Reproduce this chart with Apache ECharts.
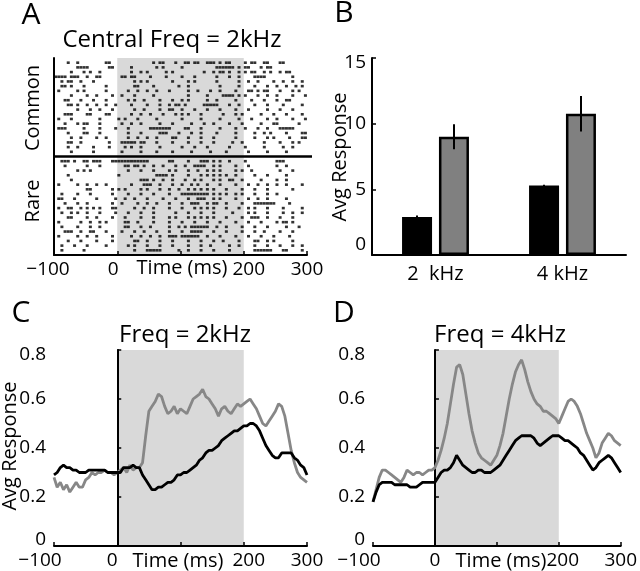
<!DOCTYPE html>
<html><head><meta charset="utf-8">
<script src="https://cdn.jsdelivr.net/npm/echarts@6/dist/echarts.min.js"></script>
<style>html,body{margin:0;padding:0;background:#fff}#c{width:640px;height:571px}</style>
</head><body><div id="c"></div>
<script>
// ---------- DATA ----------
// Panel A raster: spike positions as 5 ms bin indices (bin 0 starts at -100 ms)
const rasterBinMs = 5;
const rasterStartMs = -100;
const commonTrialBins = [
[4,7,16,17,31,33,34,38,41,42,44,45,48,49,50,52,54,55,60,62,63,66,67,71,72],
[7,8,9,10,17,18,24,32,34,40,51,52,53,54,55,56,58,60,61,65,67,68],
[5,9,11,14,24,27,29,35,37,47,50,52,53,55,58,60,62,63,66,68,71,73,74],
[0,1,2,3,5,6,7,10,13,14,21,22,24,25,30,35,40,44,51,55,58,63,64,65,66,75],
[2,4,5,8,12,25,27,29,37,42,44,51,58,61,64,69,72,75,78],
[2,3,5,9,16,25,26,31,39,42,52,58,63,67,70,73,76,78],
[1,7,9,16,23,26,29,32,36,42,45,49,52,57,61,62,64,66,67,71,75,77],
[5,10,13,18,21,25,31,42,48,53,54,55,56,58,60,64,67,70,75,79],
[3,4,8,12,16,23,25,28,33,37,40,42,48,51,57,62,66,70,73,74],
[4,5,7,10,13,16,19,24,29,33,36,38,39,41,47,48,49,50,51,55,58,63,67,72,78],
[7,11,14,18,25,28,33,36,37,40,44,48,52,57,61,67,71,75],
[3,4,5,10,11,16,17,24,27,30,34,38,40,42,46,53,57,59,65,69,73,78],
[1,5,14,20,22,26,32,40,46,52,58,62,67,70,75,79],
[3,7,9,10,14,21,24,27,33,37,43,47,50,55,59,65,69,70,77],
[1,2,3,9,14,19,23,30,31,32,33,34,35,36,41,42,46,52,57,60,64,67,71,72,73,74,75],
[4,9,10,14,23,27,33,34,35,39,43,46,51,57,63,66,68,73,78,79],
[5,8,13,16,23,26,29,32,37,38,42,46,50,57,63,67,69,74,78,79],
[4,5,8,17,21,22,23,24,25,27,28,32,37,42,46,50,56,59,66,71,75,77],
[4,7,12,17,22,24,27,33,40,44,48,55,60,66,72,75],
[5,12,21,27,32,37,43,49,54,61,67,73]
];
const rareTrialBins = [
[2,3,4,6,9,10,12,13,14,18,19,20,21,22,23,24,25,26,27,28,29,36,37,42,46,47,48,50,52,55,60,70,71,72],
[3,10,14,22,23,25,26,28,31,34,38,41,44,45,46,47,50,52,57,61,70,73],
[7,9,11,23,27,31,36,38,42,45,48,50,52,57,59,62,71,75],
[4,20,32,33,34,35,37,42,46,48,50,52,54,57,63,67,73],
[5,27,28,29,31,34,37,41,44,46,50,52,55,56,59,65,70,73],
[1,7,10,13,16,24,28,29,30,33,37,40,43,45,48,52,57,61,64,67,70,73,78],
[10,11,18,20,22,27,29,33,36,39,42,44,46,48,50,54,59,63,67,75],
[2,7,11,18,23,27,31,36,40,41,42,43,44,45,46,47,48,50,52,54,57,59,63,67,70],
[1,2,6,13,19,22,25,29,34,38,42,45,46,47,50,52,57,61,64,67,73],
[3,7,10,18,21,26,29,32,36,40,43,44,45,48,50,51,54,59,63,64,65,66,67,68,69,74],
[1,4,5,8,10,12,14,18,19,25,28,31,36,40,44,46,48,50,54,58,61,63,67,72,78],
[2,5,7,10,14,19,23,27,31,38,42,46,50,56,61,63,67,72,75,78],
[4,5,10,13,18,22,27,31,36,38,42,44,46,48,50,54,59,62,63,64,67,71,75],
[1,8,11,14,16,22,23,26,31,36,40,44,48,52,57,61,65,70,72,73,75],
[2,7,11,14,22,23,27,30,36,39,41,43,44,45,46,47,48,51,54,59,63,67,73,77],
[3,4,5,8,11,12,16,21,25,28,32,36,40,43,44,45,46,50,54,59,63,66,71,75],
[1,7,10,13,18,24,27,30,33,36,37,38,40,41,42,43,44,45,48,52,57,61,65,69,74],
[4,8,13,18,25,26,29,33,37,42,46,50,53,58,63,64,67,69,75],
[2,6,10,16,23,25,29,33,37,42,46,49,55,58,63,67,71,75,78],
[2,9,25,29,30,31,32,33,39,42,46,50,55,63,64,65,66,67,68,72,73,78]
];
const stimWindowMs = [0, 200];

// Panel B bars
const barCategories = ['2  kHz', '4 kHz'];
const barCommon = [2.9, 5.3];
const barRare = [9.0, 10.75];
const errCommon = [0.1, 0.05];
const errRare = [0.95, 1.35];

// Panels C / D time courses
const timeMs = [-100,-95,-90,-85,-80,-75,-70,-65,-60,-55,-50,-45,-40,-35,-30,-25,-20,-15,-10,-5,
0,5,10,15,20,25,30,35,40,45,50,55,60,65,70,75,80,85,90,95,
100,105,110,115,120,125,130,135,140,145,150,155,160,165,170,175,180,185,190,195,
200,205,210,215,220,225,230,235,240,245,250,255,260,265,270,275,280,285,290,295,300];
const c2kCommon = [0.29,0.30,0.32,0.33,0.32,0.32,0.31,0.31,0.30,0.30,
0.30,0.31,0.31,0.31,0.31,0.31,0.31,0.30,0.30,0.30,
0.30,0.30,0.32,0.32,0.32,0.33,0.32,0.32,0.29,0.27,
0.25,0.23,0.23,0.24,0.24,0.25,0.26,0.26,0.27,0.29,
0.29,0.30,0.30,0.31,0.32,0.33,0.35,0.36,0.38,0.39,
0.39,0.40,0.41,0.43,0.44,0.45,0.46,0.47,0.47,0.48,
0.49,0.49,0.50,0.50,0.49,0.47,0.44,0.41,0.39,0.37,
0.36,0.36,0.38,0.38,0.38,0.38,0.36,0.35,0.33,0.32,0.29];
const c2kRare = [0.28,0.24,0.26,0.23,0.25,0.22,0.24,0.26,0.24,0.24,
0.27,0.28,0.30,0.29,0.30,0.30,0.31,0.30,0.30,0.29,
0.30,0.31,0.32,0.30,0.33,0.31,0.32,0.32,0.34,0.45,
0.55,0.57,0.59,0.62,0.61,0.57,0.54,0.55,0.57,0.54,
0.56,0.55,0.54,0.57,0.60,0.61,0.62,0.64,0.61,0.60,
0.58,0.56,0.53,0.56,0.57,0.55,0.54,0.56,0.58,0.57,
0.58,0.59,0.60,0.58,0.56,0.53,0.50,0.49,0.51,0.53,
0.55,0.58,0.57,0.53,0.46,0.39,0.34,0.30,0.28,0.27,0.26];
const d4kCommon = [0.18,0.22,0.25,0.26,0.26,0.26,0.26,0.25,0.25,0.25,
0.25,0.25,0.24,0.24,0.24,0.25,0.26,0.26,0.26,0.26,
0.26,0.28,0.30,0.31,0.31,0.32,0.34,0.37,0.35,0.33,
0.32,0.31,0.30,0.30,0.31,0.31,0.30,0.30,0.30,0.31,
0.32,0.33,0.35,0.37,0.39,0.41,0.43,0.44,0.45,0.45,
0.45,0.45,0.44,0.42,0.41,0.42,0.43,0.44,0.45,0.45,
0.45,0.44,0.43,0.43,0.42,0.41,0.40,0.38,0.37,0.35,
0.33,0.31,0.32,0.34,0.35,0.36,0.37,0.36,0.34,0.32,0.30];
const d4kRare = [0.18,0.23,0.28,0.31,0.31,0.30,0.29,0.28,0.27,0.26,
0.28,0.31,0.30,0.29,0.30,0.30,0.29,0.30,0.31,0.31,
0.32,0.35,0.39,0.44,0.50,0.58,0.66,0.73,0.74,0.70,
0.62,0.54,0.47,0.42,0.38,0.36,0.35,0.34,0.33,0.35,
0.37,0.41,0.46,0.53,0.60,0.66,0.71,0.74,0.76,0.72,
0.67,0.63,0.60,0.58,0.57,0.55,0.55,0.54,0.53,0.52,
0.50,0.53,0.56,0.59,0.60,0.59,0.57,0.54,0.50,0.46,
0.43,0.40,0.36,0.38,0.42,0.44,0.46,0.45,0.43,0.42,0.41];

// ---------- STYLE ----------
const FONT = '"Open Sans"';
const INK = '#000';
const GRAY = '#878787';
const SHADE = '#d9d9d9';
const TICK_FS = 19;

const chart = echarts.init(document.getElementById('c'), null, {renderer: 'canvas'});

const baseTxt = {color: INK, fontFamily: FONT, fontSize: TICK_FS};
// horizontal nudges (px) of individual time tick labels, per panel
function timeAxis(gi, shifts) {
  const rich = {};
  Object.keys(shifts).forEach((k, idx) => {
    const s = shifts[k];
    rich['s' + idx] = Object.assign({}, baseTxt, {padding: s < 0 ? [0, -2 * s, 0, 0] : [0, 0, 0, 2 * s]});
  });
  rich.n = Object.assign({}, baseTxt);
  return {
    gridIndex: gi, type: 'value', min: -100, max: 300, interval: 100,
    axisLine: {onZero: false, lineStyle: {color: INK, width: 2}},
    axisTick: {inside: true, length: 4, lineStyle: {color: INK, width: 1.5}},
    axisLabel: {
      color: INK, fontFamily: FONT, fontSize: TICK_FS, margin: 5, rich: rich,
      formatter: function (v) {
        if (v === 100) return '';
        const t = v < 0 ? '\u2212' + Math.abs(v) : String(v);
        const keys = Object.keys(shifts);
        const idx = keys.indexOf(String(v));
        return idx >= 0 ? '{s' + idx + '|' + t + '}' : '{n|' + t + '}';
      }
    },
    splitLine: {show: false}
  };
}
function respAxis(gi) {
  return {
    gridIndex: gi, type: 'value', min: 0, max: 0.8, interval: 0.2,
    axisLine: {show: true, lineStyle: {color: INK, width: 2}},
    axisTick: {show: true, inside: true, length: 4, lineStyle: {color: INK, width: 1.5}},
    axisLabel: {
      color: INK, fontFamily: FONT, fontSize: TICK_FS, margin: 8, showMinLabel: false,
      rich: {hi: Object.assign({}, baseTxt, {padding: [10, 0, 0, 0]}),
             n: Object.assign({}, baseTxt)},
      formatter: function (v) {
        const t = String(Math.round(v * 10) / 10);
        if (Math.abs(v - 0.8) < 1e-9) return '{hi|' + t + '}';
        return '{n|' + t + '}';
      }
    },
    splitLine: {show: false}
  };
}
function shadeSeries(gi) {
  return {
    type: 'custom', xAxisIndex: gi, yAxisIndex: gi, z: 0, silent: true,
    data: [stimWindowMs], encode: {x: [0, 1]},
    renderItem: function (params, api) {
      const cs = params.coordSys;
      const a = api.coord([api.value(0), 0]);
      const b = api.coord([api.value(1), 0]);
      return {type: 'rect', shape: {x: a[0], y: cs.y, width: b[0] - a[0], height: cs.height}, style: {fill: SHADE}};
    }
  };
}
function curve(gi, vals, color, z) {
  return {
    type: 'line', xAxisIndex: gi, yAxisIndex: gi, z: z, silent: true,
    data: timeMs.map((t, i) => [t, vals[i]]),
    showSymbol: false, symbol: 'none', smooth: false,
    lineStyle: {color: color, width: 2.8}
  };
}

// raster points
const rasterPts = [];
commonTrialBins.forEach((bins, i) => bins.forEach(b => rasterPts.push([rasterStartMs + rasterBinMs * b + rasterBinMs / 2, i + 1])));
const dividerRow = commonTrialBins.length + 1;
rareTrialBins.forEach((bins, j) => bins.forEach(b => rasterPts.push([rasterStartMs + rasterBinMs * b + rasterBinMs / 2, dividerRow + j + 1])));
const nRows = commonTrialBins.length + rareTrialBins.length + 2;

const txt = (text, x, y, size, extra, align) => Object.assign({
  type: 'text', x: x, y: y, silent: true,
  style: {text: text, fill: INK, fontFamily: FONT, fontSize: size, align: align || 'center', verticalAlign: 'middle', textAlign: align || 'center', textVerticalAlign: 'middle'}
}, extra || {});

const option = {
  animation: false,
  backgroundColor: '#fff',
  grid: [
    {left: 54, top: 58, width: 253, height: 197},
    {left: 372, top: 58, width: 254, height: 197},
    {left: 54, top: 350, width: 253, height: 196},
    {left: 373, top: 350, width: 253, height: 196}
  ],
  xAxis: [
    timeAxis(0, {'-100': -6, '0': -4, '200': 5}),
    {gridIndex: 1, type: 'category', data: barCategories,
     axisLine: {lineStyle: {color: INK, width: 2}}, axisTick: {show: false},
     axisLabel: {color: INK, fontFamily: FONT, fontSize: 20, margin: 9}},
    timeAxis(2, {'-100': -14, '0': -5, '200': 5}),
    timeAxis(3, {'-100': -14, '200': 4})
  ],
  yAxis: [
    {gridIndex: 0, type: 'value', min: 0, max: nRows, inverse: true,
     axisLine: {show: true, onZero: false, lineStyle: {color: INK, width: 2}},
     axisTick: {show: false}, axisLabel: {show: false}, splitLine: {show: false}},
    {gridIndex: 1, type: 'value', min: 0, max: 15, interval: 5,
     axisLine: {show: true, lineStyle: {color: INK, width: 2}},
     axisTick: {show: true, inside: true, length: 4, lineStyle: {color: INK, width: 1.5}},
     axisLabel: {
       color: INK, fontFamily: FONT, fontSize: TICK_FS, margin: 6,
       rich: {lo: Object.assign({}, baseTxt, {padding: [0, 0, 20, 0]}),
              hi: Object.assign({}, baseTxt, {padding: [10, 0, 0, 0]}),
              n: Object.assign({}, baseTxt)},
       formatter: function (v) { return v === 0 ? '{lo|0}' : (v === 15 ? '{hi|15}' : '{n|' + v + '}'); }
     },
     splitLine: {show: false}},
    respAxis(2),
    respAxis(3)
  ],
  series: [
    shadeSeries(0),
    {type: 'scatter', xAxisIndex: 0, yAxisIndex: 0, z: 2, silent: true,
     data: rasterPts, symbol: 'rect', symbolSize: [3, 2.6], itemStyle: {color: INK}},
    {type: 'custom', xAxisIndex: 0, yAxisIndex: 0, z: 3, silent: true,
     data: [[dividerRow]], encode: {y: 0},
     renderItem: function (params, api) {
       const cs = params.coordSys;
       const p = api.coord([-100, api.value(0)]);
       return {type: 'line', shape: {x1: cs.x, y1: p[1], x2: cs.x + cs.width + 5, y2: p[1]}, style: {stroke: INK, lineWidth: 2.5}};
     }},
    {type: 'bar', xAxisIndex: 1, yAxisIndex: 1, data: barCommon, barWidth: 30, barGap: '23%',
     itemStyle: {color: '#000'}, silent: true},
    {type: 'bar', xAxisIndex: 1, yAxisIndex: 1, data: barRare, barWidth: 30,
     itemStyle: {color: '#808080', borderColor: '#000', borderWidth: 2.5}, silent: true},
    {type: 'custom', xAxisIndex: 1, yAxisIndex: 1, z: 5, silent: true,
     data: barCategories.map((c, i) => [i, barCommon[i] - errCommon[i], barCommon[i] + errCommon[i], -1])
       .concat(barCategories.map((c, i) => [i, barRare[i] - errRare[i], barRare[i] + errRare[i], 1])),
     encode: {x: 0, y: [1, 2]},
     renderItem: function (params, api) {
       const lo = api.coord([api.value(0), api.value(1)]);
       const hi = api.coord([api.value(0), api.value(2)]);
       const x = lo[0] + api.value(3) * 18.5;
       return {type: 'line', shape: {x1: x, y1: lo[1], x2: x, y2: hi[1]}, style: {stroke: INK, lineWidth: 2}};
     }},
    shadeSeries(2),
    curve(2, c2kRare, GRAY, 3),
    curve(2, c2kCommon, INK, 4),
    shadeSeries(3),
    curve(3, d4kRare, GRAY, 3),
    curve(3, d4kCommon, INK, 4)
  ],
  graphic: {elements: [
    txt('A', 31, 15, 30),
    txt('B', 344, 13, 30),
    txt('C', 21, 313, 30),
    txt('D', 344, 313, 30),
    txt('Central Freq = 2kHz', 172, 40, 24),
    txt('Freq = 2kHz', 185, 335, 24),
    txt('Freq = 4kHz', 500, 335, 24),
    txt('Common', 33, 108, 20, {rotation: Math.PI / 2}),
    txt('Rare', 33, 201, 20, {rotation: Math.PI / 2}),
    txt('Avg Response', 340, 157, 20, {rotation: Math.PI / 2}),
    txt('Avg Response', 10, 446, 20, {rotation: Math.PI / 2}),
    txt('Time (ms)', 182, 268, 20),
    txt('Time (ms)', 178, 561, 20),
    txt('Time (ms)', 501, 561, 20),
    txt('0', 46, 540, TICK_FS, null, 'right'),
    txt('0', 365, 540, TICK_FS, null, 'right')
  ]}
};
chart.setOption(option);
</script></body></html>
